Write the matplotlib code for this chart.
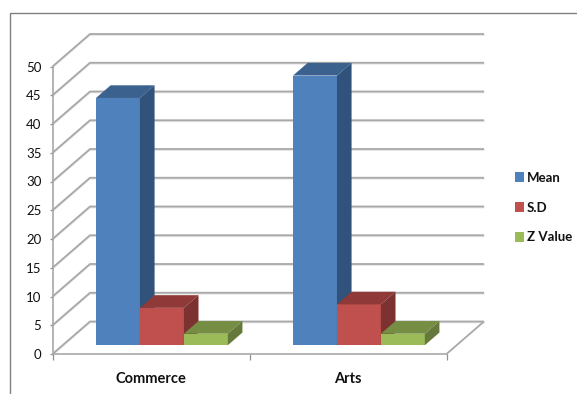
"""Clustered column chart with a hand-built 3D look: Mean, S.D and Z Value by stream."""
import matplotlib
matplotlib.use("Agg")
import matplotlib.pyplot as plt
from matplotlib.lines import Line2D
from matplotlib.patches import Patch, Polygon

categories = ["Commerce", "Arts"]
series_names = ["Mean", "S.D", "Z Value"]
mean_values = [43.0, 46.9]
sd_values = [6.5, 7.1]
z_values = [2.0, 2.0]
y_ticks = list(range(0, 55, 5))

FRONT = ["#4F81BD", "#C0504D", "#9BBB59"]
TOP = ["#3B618F", "#8F3A38", "#758E43"]
SIDE = ["#31527A", "#7C3230", "#657A3A"]
GRID = "#A8A8A8"

W, H = 577, 394
X0_PX, Y0_PX = 52.5, 354.0      # where the front-left floor corner sits
PX_PER_CAT = 197.0
PX_PER_UNIT = 5.75
DEPTH_X = 37.5 / PX_PER_CAT     # floor depth, in category units
DEPTH_Y = 32.5 / PX_PER_UNIT    # floor depth, in value units
BAR_W = 0.223
BAR_FRONT = 0.27                # depth of the bar fronts on the floor
BAR_DEPTH = 0.39
GROUP_SHIFT = 0.004

plt.rcParams["font.family"] = ["Lato", "DejaVu Sans"]

fig = plt.figure(figsize=(W / 100, H / 100), dpi=100, facecolor="white")
ax = fig.add_axes([0, 0, 1, 1])
ax.set_xlim(-X0_PX / PX_PER_CAT, (W - X0_PX) / PX_PER_CAT)
ax.set_ylim((Y0_PX - H) / PX_PER_UNIT, Y0_PX / PX_PER_UNIT)
ax.patch.set_visible(False)

n_cat = len(categories)
y_max = y_ticks[-1]


def wall_line(pts, **kw):
    xs, ys = zip(*pts)
    ax.plot(xs, ys, color=GRID, lw=kw.pop("lw", 1.3), solid_capstyle="butt", zorder=1, **kw)


# side wall and back wall gridlines
for v in y_ticks:
    pts = [(0, v), (DEPTH_X, v + DEPTH_Y), (n_cat + DEPTH_X, v + DEPTH_Y)]
    xs, ys = zip(*pts)
    ax.plot(xs, [y - 0.18 for y in ys], color="#E4E4E4", lw=1.2, zorder=0.9)
    wall_line(pts)

# floor outline
wall_line([(n_cat + DEPTH_X, DEPTH_Y), (n_cat, 0)])

# columns: front face from ax.bar, top and side as oblique polygons
values = [mean_values, sd_values, z_values]
start = (1 - len(values) * BAR_W) / 2 + GROUP_SHIFT
dx = BAR_DEPTH * DEPTH_X
dy = BAR_DEPTH * DEPTH_Y
base_x = BAR_FRONT * DEPTH_X
base_y = BAR_FRONT * DEPTH_Y

for s, vals in enumerate(values):
    z = 3 + s
    for c, v in enumerate(vals):
        left = c + start + s * BAR_W + base_x
        right = left + BAR_W
        top = base_y + v
        ax.bar(left, v, width=BAR_W, bottom=base_y, align="edge", color=FRONT[s], zorder=z)
        ax.add_patch(Polygon([(left, top), (right, top), (right + dx, top + dy), (left + dx, top + dy)],
                             closed=True, fc=TOP[s], ec="none", zorder=z))
        ax.add_patch(Polygon([(right, base_y), (right + dx, base_y + dy), (right + dx, top + dy), (right, top)],
                             closed=True, fc=SIDE[s], ec="none", zorder=z))

# axes
for name in ("top", "right"):
    ax.spines[name].set_visible(False)
ax.spines["left"].set_position(("data", 0))
ax.spines["left"].set_bounds(0, y_max)
ax.spines["bottom"].set_position(("data", 0))
ax.spines["bottom"].set_bounds(0, n_cat)
for name in ("left", "bottom"):
    ax.spines[name].set_color(GRID)
    ax.spines[name].set_linewidth(1.2)

ax.set_yticks(y_ticks)
ax.set_yticklabels([str(v) for v in y_ticks], fontsize=9.5, color="#111111")
ax.tick_params(axis="y", length=2, width=0.9, color="#909090", pad=6)
ax.set_xticks(range(n_cat + 1))
ax.set_xticklabels([])
ax.tick_params(axis="x", which="major", length=4.5, width=0.9, color="#909090")
ax.set_xticks([c + 0.5 for c in range(n_cat)], minor=True)
ax.set_xticklabels(categories, minor=True, fontsize=10.5, fontweight="bold", color="#111111")
ax.tick_params(axis="x", which="minor", length=0, pad=13)

handles = [Patch(fc=c, ec="none") for c in FRONT]
ax.legend(handles, series_names, loc="center left", bbox_to_anchor=(503 / W, 1 - 207.5 / H),
          frameon=False, prop={"size": 9.5, "weight": "bold"}, handlelength=0.72, handleheight=0.72,
          handletextpad=0.2, labelspacing=1.36, labelcolor="#111111")

# outer chart frame, open on the right and bottom
fig.add_artist(Line2D([9.5 / W, 9.5 / W, 1], [0, 1 - 12.5 / H, 1 - 12.5 / H], color="#808080", lw=1.0))

fig.savefig("out.png", dpi=100, facecolor="white")
